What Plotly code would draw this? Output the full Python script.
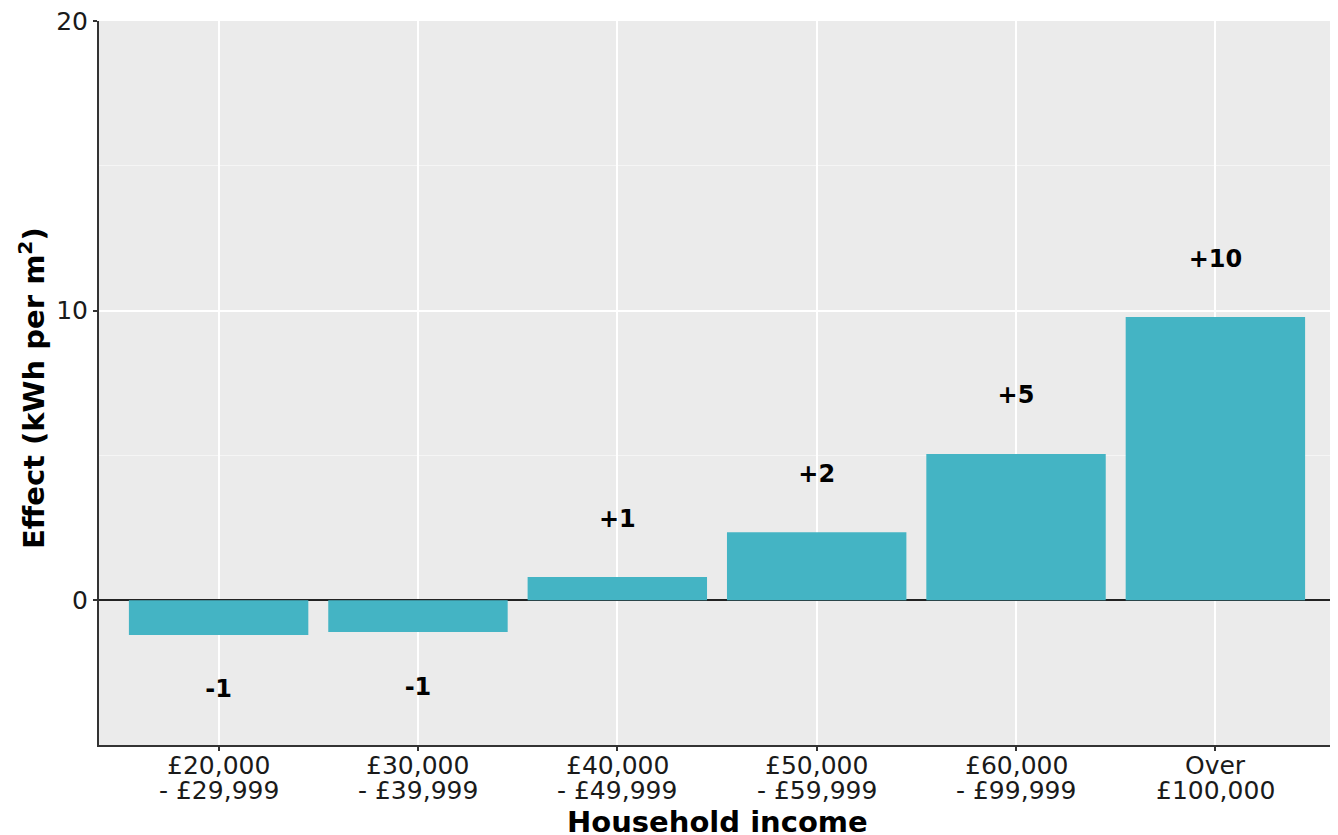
import plotly.graph_objects as go

cat_line1 = ["£20,000", "£30,000", "£40,000", "£50,000", "£60,000", "Over"]
cat_line2 = ["- £29,999", "- £39,999", "- £49,999", "- £59,999", "- £99,999", "£100,000"]
effects = [-1.2, -1.1, 0.8, 2.35, 5.05, 9.78]
label_offset = 1.95
labels = [f"{round(v):+d}" for v in effects]
label_y = [v + (label_offset if v >= 0 else -label_offset) for v in effects]
y_ticks = [0, 10, 20]

xs = list(range(len(cat_line1)))
font = "DejaVu Sans"
tick_size = 25

fig = go.Figure()
fig.add_trace(go.Bar(x=xs, y=effects, width=0.9, marker=dict(color="#44B4C4", line=dict(width=0)),
                     showlegend=False, hoverinfo="skip"))
fig.add_trace(go.Scatter(x=xs, y=label_y, mode="text", text=labels,
                         textfont=dict(family=font, size=24, color="black", weight="bold"),
                         textposition="middle center", showlegend=False, hoverinfo="skip"))

# two-line category labels with tight line spacing
for x, l1, l2 in zip(xs, cat_line1, cat_line2):
    fig.add_annotation(x=x, xref="x", y=0, yref="paper", text=l1, showarrow=False,
                       yanchor="middle", yshift=-20, font=dict(family=font, size=tick_size, color="#1a1a1a"))
    fig.add_annotation(x=x, xref="x", y=0, yref="paper", text=l2, showarrow=False,
                       yanchor="middle", yshift=-45, font=dict(family=font, size=tick_size, color="#1a1a1a"))

fig.add_annotation(x=0.5, xref="paper", y=0, yref="paper", text="<b>Household income</b>", showarrow=False,
                   yanchor="middle", yshift=-77, font=dict(family=font, size=29, color="black"))
fig.add_annotation(x=0, xref="paper", y=0.493, yref="paper", text="<b>Effect (kWh per m<sup>2</sup>)</b>",
                   showarrow=False, textangle=-90, xanchor="center", xshift=-67,
                   font=dict(family=font, size=29, color="black"))

# page body has an 8px margin, so the figure is 8px smaller and margins shifted
fig.update_layout(
    width=1330, height=827,
    margin=dict(l=91, r=3, t=13, b=90),
    paper_bgcolor="white", plot_bgcolor="#EBEBEB",
    font=dict(family=font, color="#1a1a1a"),
)
fig.update_xaxes(
    range=[-0.6, 5.6], tickvals=xs, showticklabels=False, automargin=False,
    showgrid=True, gridcolor="white", gridwidth=1.5,
    showline=True, linecolor="#333333", linewidth=2,
    ticks="outside", ticklen=4, tickcolor="#333333", tickwidth=1.5,
    zeroline=False,
)
fig.update_yaxes(
    range=[-5, 20], tickvals=y_ticks, automargin=False, ticklabeloverflow="allow",
    tickfont=dict(size=tick_size, color="#1a1a1a", family=font),
    showgrid=True, gridcolor="white", gridwidth=1.5,
    minor=dict(tickvals=[5, 15], showgrid=True, gridcolor="#F5F5F5", gridwidth=1),
    showline=True, linecolor="#333333", linewidth=2,
    ticks="outside", ticklen=4, tickcolor="#333333", tickwidth=1.5,
    zeroline=True, zerolinecolor="#222222", zerolinewidth=2,
)

fig.write_html("out.html")
